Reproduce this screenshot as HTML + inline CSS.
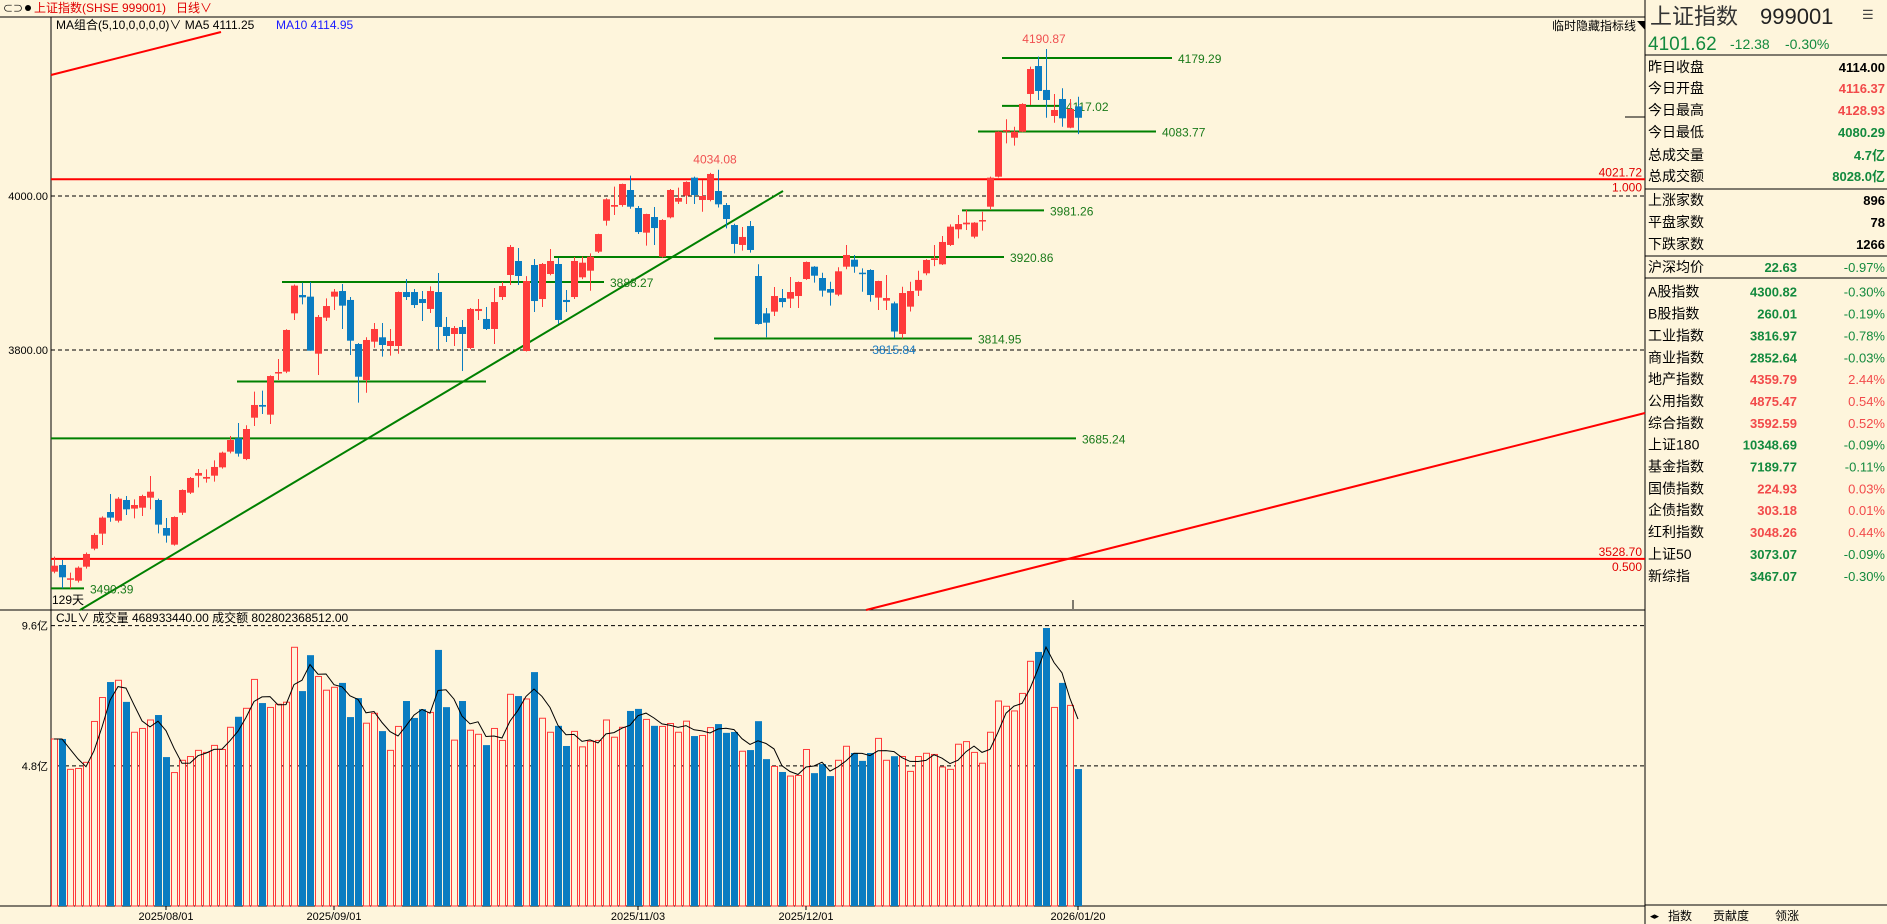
<!DOCTYPE html>
<html><head><meta charset="utf-8">
<style>
html,body{margin:0;padding:0;background:#fef5dc;}
svg{display:block;font-family:"Liberation Sans","Noto Sans CJK SC",sans-serif;}
</style></head>
<body>
<svg id="chart" width="1887" height="924" viewBox="0 0 1887 924" xmlns="http://www.w3.org/2000/svg">
<rect x="0" y="0" width="1887" height="924" fill="#fef5dc"/>
<g>
  <text x="3" y="12" font-size="10" fill="#000">⊂⊃</text>
  <circle cx="28" cy="8" r="3" fill="#000"/>
  <text x="34" y="12" font-size="12" fill="#e00000">上证指数(SHSE 999001)</text>
  <text x="176" y="12" font-size="12" fill="#e00000">日线∨</text>
  <line x1="0" y1="17" x2="1645" y2="17" stroke="#000" stroke-width="1"/>
</g>
<g id="price"></g>
<g id="vol"></g>
<g id="panel"></g>
</svg>
<script>
const opens=[3512.1,3520.8,3502.2,3500.4,3518.6,3542,3561.5,3589.6,3578.3,3605.2,3594,3595.2,3608.2,3605.2,3568.8,3547.2,3588.7,3614.7,3636.8,3632.9,3636.8,3647.6,3668,3685.3,3658.4,3712.1,3728.6,3716,3769.7,3771.9,3847.6,3871.4,3869.3,3795.2,3842,3869.3,3876.6,3865,3807.8,3761,3810.8,3816.5,3805.2,3805.2,3875.3,3875.3,3866.2,3853.3,3875.3,3829.9,3820.8,3829.9,3802.6,3850.6,3840.3,3827.3,3868.8,3897.4,3915.6,3798.7,3910.4,3866.2,3898.7,3911.7,3865,3868.8,3894.4,3903,3927.7,3967.9,3986.1,3988.3,4007.8,3984.4,3952.4,3972.7,3921.2,3972.3,3992.6,4000.4,4023.8,3994.8,3994.8,4006.5,3988.3,3962.3,3936.4,3961,3896.1,3847.6,3849.8,3867.5,3866.7,3870.1,3892.2,3908.2,3893.5,3879.2,3871.9,3908.2,3917.3,3900.4,3903.9,3868,3864.1,3860.6,3820.8,3856.3,3877.1,3899.6,3916.9,3911.3,3936.4,3956.7,3963.2,3947.2,3967.1,3986.1,4025.1,4084.4,4075.7,4083.5,4132.5,4168.8,4137.7,4103.9,4126,4088.7,4116.4];
const highs=[3531.6,3527.3,3510.8,3519,3537,3562,3584,3613,3609,3610.4,3606,3612,3636.4,3607,3581.8,3584,3619,3635,3645.5,3645,3656.7,3668,3688.3,3705.2,3702.2,3745.9,3747.2,3767,3788.3,3827,3885,3887.5,3888.3,3845.5,3867,3879.2,3885.7,3868.8,3809,3816.5,3835,3835,3827.3,3876,3892.2,3879.2,3876.6,3882.7,3900,3842.9,3831.2,3839,3854.5,3866.2,3855.8,3880.5,3888.3,3936.4,3932.5,3896,3918.2,3913,3931.2,3919.5,3877.9,3920.8,3921.2,3925.5,3951,3997,4012.1,4016,4026.4,3987,3977,3985.7,3970,4009.1,4010.8,4019,4025.1,4020.8,4030,4034.1,3990.9,3964,3959.7,3967.5,3911.3,3854.5,3881.8,3879.2,3894.8,3889,3915,3909,3900.4,3888.7,3907.4,3936.4,3923.4,3906,3904.8,3890,3897.4,3862.8,3882.2,3888.7,3903,3918,3936.4,3948,3963.2,3975.3,3981.8,3966,3979.6,4025.1,4084,4099.6,4090,4120.4,4168,4181,4190.9,4132.5,4139.9,4126,4128.9];
const lows=[3510,3490.4,3490.5,3498,3516,3540,3546.8,3577,3576,3585.7,3581.4,3584.4,3593,3561.9,3549.8,3546,3585.7,3613,3621.6,3627.7,3629,3646,3665.8,3661.5,3657,3701.3,3716.9,3703.9,3761,3770,3839,3859.3,3799,3767.5,3837.7,3852,3827.3,3793.5,3731.6,3744.5,3803,3791.4,3792.7,3795.2,3865,3854.5,3837.7,3848,3800,3810.4,3805.2,3772.7,3801,3839,3826,3807.8,3865,3884.4,3884.4,3798,3849.4,3855.8,3897,3833.8,3849.4,3866.2,3892,3877,3926,3961.5,3975.3,3986,3983.5,3950.6,3935.5,3936.4,3920,3971,3989.6,3989.6,3989.6,3979.6,3993,3985,3958,3925.5,3929,3926.4,3833,3816.5,3844.2,3855.4,3854.5,3854.5,3891,3887.5,3869.3,3857.6,3870,3904.8,3900.4,3875.7,3862.8,3852,3852,3815.8,3815,3850,3870.1,3897,3909,3910.4,3935,3945,3955.8,3945,3955,3981.8,4024,4068.4,4065.4,4083,4118.2,4124.7,4101.7,4095.2,4090,4088,4080.3];
const closes=[3519.9,3504.8,3503.5,3517.3,3535.1,3559.8,3582.3,3582.3,3606.9,3593.1,3598.7,3610.4,3616,3573.2,3558.9,3583.1,3618.2,3633.8,3640.3,3635.1,3648.1,3666.7,3683.1,3665.4,3697.4,3728.6,3726.4,3766.2,3771.4,3826,3883.6,3868.4,3799.1,3842.9,3857.1,3875.8,3857.6,3812.1,3765.3,3813,3827.3,3806.5,3811.7,3875.3,3868.8,3858.4,3861,3876.6,3829.9,3818.2,3828.6,3820.8,3853.3,3853.3,3827.3,3862.3,3883.1,3933.8,3896.1,3889.6,3863.6,3911.7,3915.6,3839,3862.3,3915.6,3913.4,3921.2,3950.6,3995.7,3988.3,4015.6,3986.1,3953.2,3976.6,3958.4,3968.8,4007.8,3997.4,4018.2,4001.3,4000,4028.6,3989.2,3970.1,3937.7,3946.8,3929.9,3833.8,3835.5,3870.1,3862.3,3875.3,3888.3,3914.3,3896.5,3877.1,3874.5,3902.2,3923.4,3908.2,3898.7,3871.4,3889.6,3867.5,3824,3874,3876.6,3891,3916.9,3919,3940.3,3960.2,3963.6,3965.4,3965.4,3968.8,4023.8,4083.5,4085.7,4083.5,4119.5,4164.9,4136.4,4124.7,4111.7,4100.9,4113,4101.6];
const volumes=[5.72,5.72,4.68,4.71,4.92,6.32,7.14,7.67,7.73,6.99,5.95,6.08,6.37,6.54,5.10,4.57,4.99,5.12,5.33,5.26,5.50,5.36,6.12,6.48,6.77,7.76,6.95,6.80,6.91,6.98,8.86,7.36,8.59,7.86,7.39,7.49,7.64,6.47,7.12,6.26,6.60,5.99,5.33,6.15,7.02,6.44,6.74,6.63,8.77,6.81,5.68,7.02,6.02,5.88,5.51,6.08,5.67,7.25,7.19,7.09,8.01,6.43,5.95,6.17,5.48,5.98,5.45,5.64,5.67,6.37,5.78,6.12,6.68,6.75,6.39,6.17,6.15,6.25,5.95,6.33,5.82,5.84,6.11,6.23,5.93,5.96,5.30,5.34,6.33,5.03,4.78,4.59,4.45,4.47,5.36,4.55,4.86,4.45,4.99,5.47,5.24,4.97,5.24,5.74,4.99,5.13,5.12,4.61,5.12,5.23,5.19,4.76,4.68,5.54,5.63,5.26,4.89,5.95,7.02,6.84,6.68,7.28,8.38,8.70,9.52,6.80,7.64,6.87,4.69];
const dateLabels=["2025/08/01","2025/09/01","2025/11/03","2025/12/01","2026/01/20"];
const dateIndex=[14,35,73,94,128];
const priceTicks=[4000,3800];
const volTicks=[9.6,4.8];
const levelValues=[4179.29,4117.02,4083.77,3981.26,3920.86,3888.27,3814.95,3685.24,3490.39];
const levelStart=[119,119,116,114,63,29,83,-1,-1];
const levelEnd=[139,125,137,123,118,68,114,127,3];
const fibValues=[4021.72,3528.70];
const fibLabels=["1.000","0.500"];

const NS="http://www.w3.org/2000/svg";
const RED="#ff3b3b", BLUE="#0a7cc1", GREEN="#008000";
const X0=54, STEP=8, LEFT=51, RIGHT=1645;
const xOf=i=>X0+STEP*i;
const yP=p=>196-(p-4000)*0.77;
const yV=v=>906-v*29.2;
function mk(parent,tag,attrs,text){const e=document.createElementNS(NS,tag);for(const k in attrs)e.setAttribute(k,attrs[k]);if(text!==undefined)e.textContent=text;parent.appendChild(e);return e;}
const P=document.getElementById('price'), V=document.getElementById('vol'), Q=document.getElementById('panel');

let e;
e=mk(P,'line',{x1:LEFT,y1:17,x2:LEFT,y2:906,stroke:'#000'});


e=mk(P,'line',{x1:RIGHT,y1:0,x2:RIGHT,y2:924,stroke:'#000'});


e=mk(P,'line',{x1:0,y1:610,x2:RIGHT,y2:610,stroke:'#000'});


e=mk(P,'line',{x1:0,y1:906,x2:RIGHT,y2:906,stroke:'#000'});



e=mk(P,'text',{x:56,y:29,'font-size':12,fill:'#000'},'MA组合(5,10,0,0,0,0)∨  MA5 4111.25');


e=mk(P,'text',{x:276,y:29,'font-size':12,fill:'#1a1aff'},'MA10 4114.95');


e=mk(P,'text',{x:1636,y:30,'font-size':12,fill:'#000','text-anchor':'end'},'临时隐藏指标线');


e=mk(P,'path',{d:'M1637 21 L1645 21 L1645 30 Z',fill:'#000'});



priceTicks.forEach(t=>{
  const l=mk(P,'line',{x1:LEFT,y1:yP(t),x2:RIGHT,y2:yP(t),stroke:'#000','stroke-dasharray':'4,3'});
  
  
  const tx=mk(P,'text',{x:48,y:yP(t)+4,'font-size':11,fill:'#000','text-anchor':'end'},t.toFixed(2));
  
  
});
fibValues.forEach((v,k)=>{
  const l=mk(P,'line',{x1:LEFT,y1:yP(v),x2:RIGHT,y2:yP(v),stroke:'#ff0000','stroke-width':2});
  
  
  const a=mk(P,'text',{x:1642,y:yP(v)-3,'font-size':12,fill:'#e00000','text-anchor':'end'},v.toFixed(2));
  
  
  const b=mk(P,'text',{x:1642,y:yP(v)+12,'font-size':12,fill:'#e00000','text-anchor':'end'},fibLabels[k]);
  
  
});
e=mk(P,'line',{x1:51,y1:75,x2:221,y2:32,stroke:'#ff0000','stroke-width':2});


e=mk(P,'line',{x1:866,y1:610,x2:1645,y2:413,stroke:'#ff0000','stroke-width':2});


e=mk(P,'line',{x1:80,y1:610,x2:783,y2:191,stroke:GREEN,'stroke-width':2});


e=mk(P,'line',{x1:237,y1:381.5,x2:486,y2:381.5,stroke:GREEN,'stroke-width':2});



levelValues.forEach((v,k)=>{
  const x1=levelStart[k]<0?LEFT:xOf(levelStart[k])-4, x2=xOf(levelEnd[k])+6;
  const l=mk(P,'line',{x1:x1,y1:yP(v),x2:x2,y2:yP(v),stroke:GREEN,'stroke-width':2});
  
  
  const t=mk(P,'text',{x:x2+6,y:yP(v)+5,'font-size':12,fill:'#1a7a1a'},v.toFixed(2));
  
  
});

for(let i=0;i<opens.length;i++){
  const up=closes[i]>=opens[i], c=up?RED:BLUE, x=xOf(i);
  const w=mk(P,'line',{x1:x+0.5,y1:yP(highs[i]),x2:x+0.5,y2:yP(lows[i]),stroke:c,'stroke-width':1});
  
  
  const top=yP(Math.max(opens[i],closes[i])), bot=yP(Math.min(opens[i],closes[i]));
  const b=mk(P,'rect',{x:x-3,y:top,width:7,height:Math.max(1.5,bot-top),fill:c});
  
  
}
const hiIdx=highs.indexOf(Math.max(...highs));
e=mk(P,'text',{x:xOf(hiIdx)-2,y:yP(highs[hiIdx])-6,'font-size':12,fill:'#f05050','text-anchor':'middle'},'4190.87');


e=mk(P,'text',{x:xOf(83)-3,y:yP(highs[83])-6,'font-size':12,fill:'#f05050','text-anchor':'middle'},'4034.08');


e=mk(P,'text',{x:xOf(105),y:yP(3815.84)+16,'font-size':12,fill:'#1a7ac0','text-anchor':'middle'},'3815.84');


e=mk(P,'text',{x:52,y:604,'font-size':12,fill:'#000'},'129天');


e=mk(P,'line',{x1:1073,y1:600,x2:1073,y2:609,stroke:'#000'});


e=mk(P,'line',{x1:1625,y1:117,x2:1645,y2:117,stroke:'#000'});



e=mk(V,'text',{x:56,y:622,'font-size':12,fill:'#000'},'CJL∨  成交量 468933440.00  成交额 802802368512.00');


volTicks.forEach(t=>{
  const l=mk(V,'line',{x1:LEFT,y1:yV(t),x2:RIGHT,y2:yV(t),stroke:'#000','stroke-dasharray':'4,3'});
  
  
  const tx=mk(V,'text',{x:48,y:yV(t)+4,'font-size':11,fill:'#000','text-anchor':'end'},t+'亿');
  
  
});
for(let i=0;i<volumes.length;i++){
  const up=closes[i]>=opens[i], x=xOf(i), y=yV(volumes[i]);
  let b;
  if(up) b=mk(V,'rect',{x:x-2.5,y:y,width:6,height:906-y,fill:'#fef5dc',stroke:RED,'stroke-width':1});
  else b=mk(V,'rect',{x:x-3,y:y,width:7,height:906-y,fill:BLUE});
  
  
}
let pts=[];
for(let i=0;i<volumes.length;i++){
  const s=volumes.slice(Math.max(0,i-2),i+1);
  const m=s.reduce((a,b)=>a+b,0)/s.length;
  pts.push(xOf(i)+','+yV(m).toFixed(1));
}
e=mk(V,'polyline',{points:pts.join(' '),fill:'none',stroke:'#000','stroke-width':1});



dateLabels.forEach((d,k)=>{
  const x=xOf(dateIndex[k]);
  const tk=mk(V,'line',{x1:x,y1:906,x2:x,y2:910,stroke:'#000'});
  
  
  const t=mk(V,'text',{x:x,y:920,'font-size':11,fill:'#000','text-anchor':'middle'},d);
  
  
});

const GR="#138a3e", RD="#f24a4a";
e=mk(Q,'text',{x:1650,y:24,'font-size':22,fill:'#333'},'上证指数');


e=mk(Q,'text',{x:1760,y:24,'font-size':22,fill:'#222'},'999001');


e=mk(Q,'text',{x:1862,y:19,'font-size':13,fill:'#444'},'☰');


e=mk(Q,'text',{x:1648,y:50,'font-size':19,fill:GR},'4101.62');


e=mk(Q,'text',{x:1730,y:49,'font-size':14,fill:GR},'-12.38');


e=mk(Q,'text',{x:1785,y:49,'font-size':14,fill:GR},'-0.30%');


[55,189,256,278].forEach(y=>{
  const l=mk(Q,'line',{x1:1645,y1:y,x2:1887,y2:y,stroke:'#000'});
  
  
});
const statRows=[["昨日收盘","4114.00","#000",67],["今日开盘","4116.37",RD,88],["今日最高","4128.93",RD,110],["今日最低","4080.29",GR,132],["总成交量","4.7亿",GR,155],["总成交额","8028.0亿",GR,176],["上涨家数","896","#000",200],["平盘家数","78","#000",222],["下跌家数","1266","#000",244]];
statRows.forEach(r=>{
  const a=mk(Q,'text',{x:1648,y:r[3]+5,'font-size':14,fill:'#000'},r[0]);
  
  
  const b=mk(Q,'text',{x:1885,y:r[3]+5,'font-size':13,'font-weight':'bold',fill:r[2],'text-anchor':'end'},r[1]);
  
  
});
const idxRows=[["沪深均价","22.63","-0.97%"],["A股指数","4300.82","-0.30%"],["B股指数","260.01","-0.19%"],["工业指数","3816.97","-0.78%"],["商业指数","2852.64","-0.03%"],["地产指数","4359.79","2.44%"],["公用指数","4875.47","0.54%"],["综合指数","3592.59","0.52%"],["上证180","10348.69","-0.09%"],["基金指数","7189.77","-0.11%"],["国债指数","224.93","0.03%"],["企债指数","303.18","0.01%"],["红利指数","3048.26","0.44%"],["上证50","3073.07","-0.09%"],["新综指","3467.07","-0.30%"]];
idxRows.forEach((r,k)=>{
  const y=(k===0?267:291.7+(k-1)*21.85)+5;
  const c=r[2].charAt(0)==='-'?GR:RD;
  const a=mk(Q,'text',{x:1648,y:y,'font-size':14,fill:'#000'},r[0]);
  
  
  const b=mk(Q,'text',{x:1797,y:y,'font-size':13,'font-weight':'bold',fill:c,'text-anchor':'end'},r[1]);
  
  
  const d=mk(Q,'text',{x:1885,y:y,'font-size':13,fill:c,'text-anchor':'end'},r[2]);
  
  
});
e=mk(Q,'line',{x1:1645,y1:905,x2:1887,y2:905,stroke:'#000'});


e=mk(Q,'text',{x:1650,y:919,'font-size':9,fill:'#000'},'◂▸');


[["指数",1668],["贡献度",1713],["领涨",1775]].forEach(t=>{
  const a=mk(Q,'text',{x:t[1],y:920,'font-size':12,fill:'#000'},t[0]);
  
  
});
</script>
</body></html>
